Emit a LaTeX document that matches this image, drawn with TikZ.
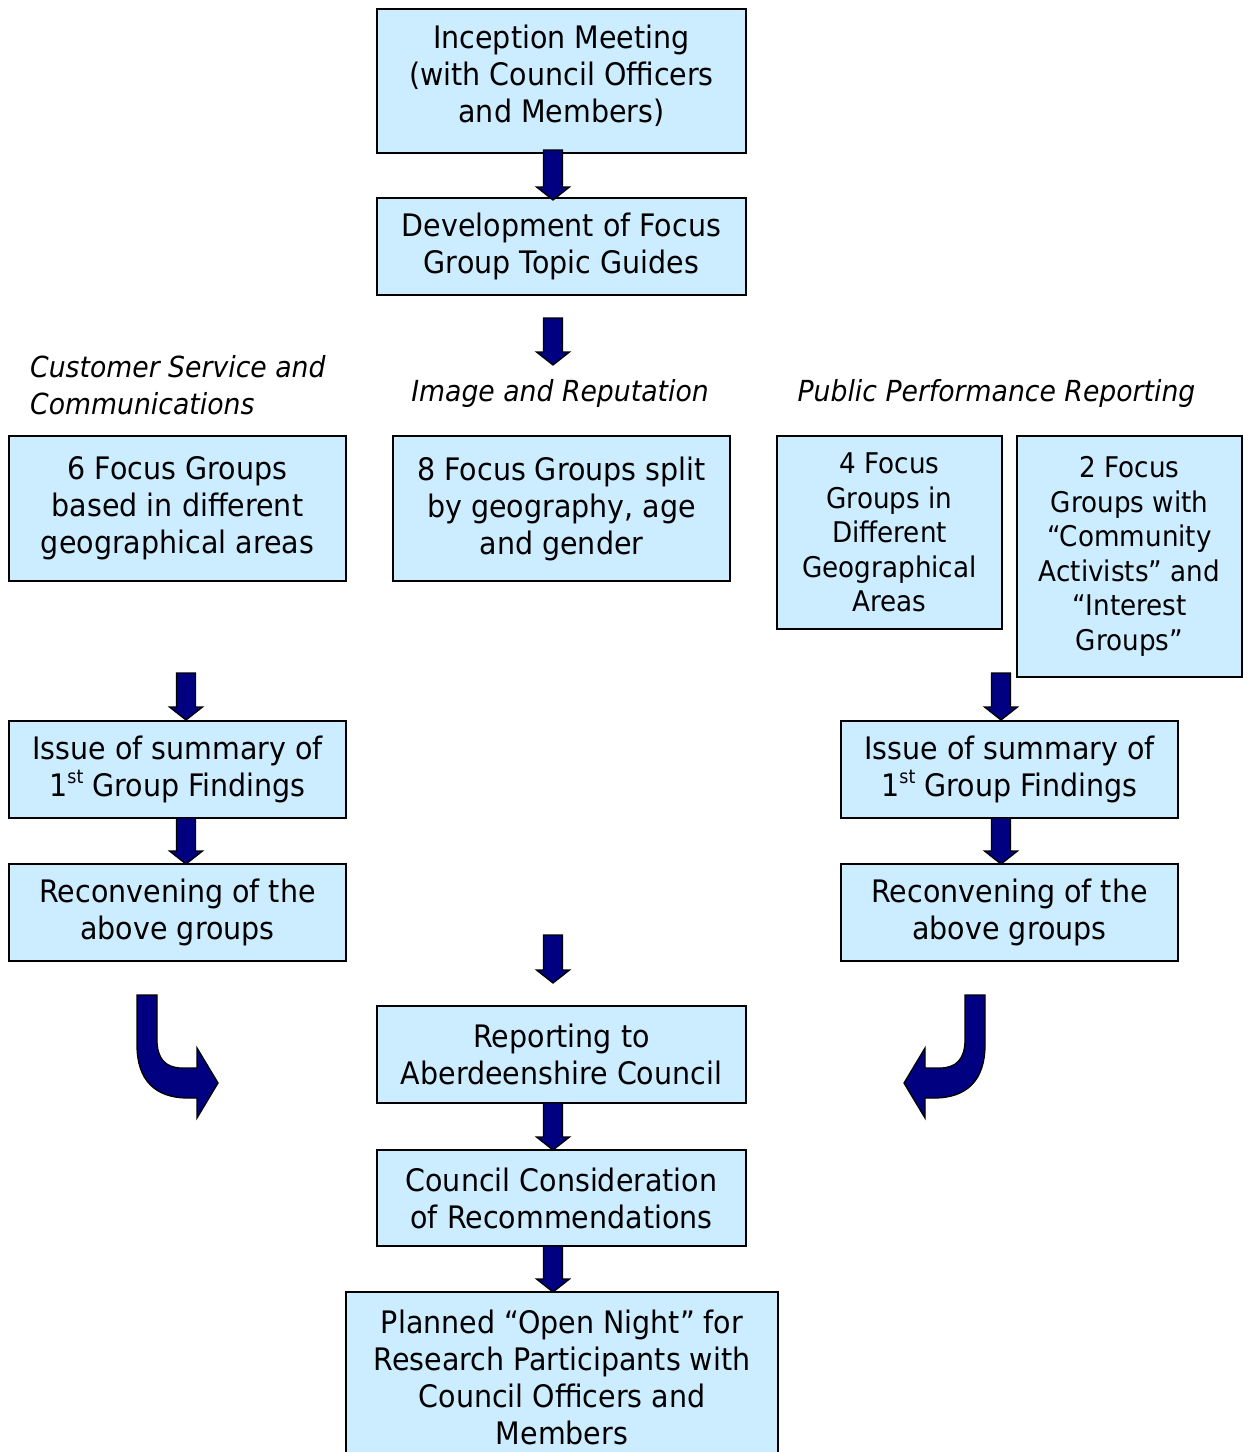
\documentclass[tikz,border=0pt]{standalone}
\usepackage{fontspec}
\setmainfont{DejaVu Sans}[FakeStretch=0.92]
\definecolor{boxfill}{HTML}{CCECFF}
\definecolor{navyblue}{HTML}{000080}
\tikzset{
  box/.style={draw=black, line width=1.5pt, fill=boxfill, align=center, inner sep=0pt,
    font=\fontsize{31}{37}\selectfont},
  sbox/.style={box, font=\fontsize{28.5}{34.5}\selectfont},
  lbl/.style={font=\fontsize{29}{37}\selectfont\itshape, inner sep=0pt},
  barrow/.style={fill=navyblue, draw=black, line width=1.3pt, line join=miter},
}
\newcommand\blockdown[3]{\draw[barrow] (#1-9.5,#2) -- (#1+9.5,#2) -- (#1+9.5,#3-13) -- (#1+16.5,#3-13) -- (#1,#3) -- (#1-16.5,#3-13) -- (#1-9.5,#3-13) -- cycle;}
\newcommand\supst{\raisebox{0.75ex}{\fontsize{19}{19}\selectfont st}}
\begin{document}
\begin{tikzpicture}[x=1pt, y=-1pt]
\clip (0,0) rectangle (1249,1452);
\fill[white] (0,0) rectangle (1249,1452);

% boxes
\node[box, minimum width=369, minimum height=144] (inc) at (561.5,81) {};
\node[box, draw=none, fill=none] (inct) at (561.5,76) {Inception Meeting\\(with Council Officers\\and Members)};
\node[box, minimum width=369, minimum height=97] (dev) at (561.5,246.5) {Development of Focus\\Group Topic Guides};

\node[lbl, anchor=west, align=left] (lcs) at (30,385.5) {Customer Service and\\Communications};
\node[lbl] (lir) at (560,393) {Image and Reputation};
\node[lbl] (lpp) at (996.5,393) {Public Performance Reporting};

\node[box, minimum width=337, minimum height=145] (cs1) at (177.5,508.5) {6 Focus Groups\\based in different\\geographical areas};
\node[box, minimum width=337, minimum height=145] (ir) at (561.5,508.5) {8 Focus Groups split\\by geography, age\\and gender};
\node[sbox, minimum width=225, minimum height=193] (pp1) at (889.5,532.5) {4 Focus\\Groups in\\Different\\Geographical\\Areas};
\node[sbox, minimum width=225, minimum height=241] (pp2) at (1129.5,556.5) {2 Focus\\Groups with\\“Community\\Activists” and\\“Interest\\Groups”};

\node[box, minimum width=337, minimum height=97] (issL) at (177.5,769.5) {Issue of summary of\\1\supst{} Group Findings};
\node[box, minimum width=337, minimum height=97] (recL) at (177.5,912.5) {Reconvening of the\\above groups};
\node[box, minimum width=337, minimum height=97] (issR) at (1009.5,769.5) {Issue of summary of\\1\supst{} Group Findings};
\node[box, minimum width=337, minimum height=97] (recR) at (1009.5,912.5) {Reconvening of the\\above groups};

\node[box, minimum width=369, minimum height=97] (rep) at (561.5,1054.5) {Reporting to\\Aberdeenshire Council};
\node[box, minimum width=369, minimum height=96] (cc) at (561.5,1198) {Council Consideration\\of Recommendations};
\node[box, minimum width=432, minimum height=170] (plan) at (562,1377) {Planned “Open Night” for\\Research Participants with\\Council Officers and\\Members};

% straight block arrows
\blockdown{553}{150}{200}
\blockdown{553}{318}{365}
\blockdown{186}{673}{720}
\blockdown{1001}{673}{720}
\blockdown{186}{818}{864}
\blockdown{1001}{818}{864}
\blockdown{553}{935}{983}
\blockdown{553}{1103}{1150}
\blockdown{553}{1246}{1292}

% curved block arrows
\draw[barrow] (137,995) -- (157,995) -- (157,1040) .. controls (157,1058) and (165,1068) .. (182,1068) -- (197,1068) -- (197,1048) -- (218,1083) -- (197,1118) -- (197,1098) -- (188,1098) .. controls (155,1098) and (137,1080) .. (137,1045) -- cycle;
\begin{scope}[xshift=1122pt, xscale=-1]
\draw[barrow] (137,995) -- (157,995) -- (157,1040) .. controls (157,1058) and (165,1068) .. (182,1068) -- (197,1068) -- (197,1048) -- (218,1083) -- (197,1118) -- (197,1098) -- (188,1098) .. controls (155,1098) and (137,1080) .. (137,1045) -- cycle;
\end{scope}
\end{tikzpicture}
\end{document}
